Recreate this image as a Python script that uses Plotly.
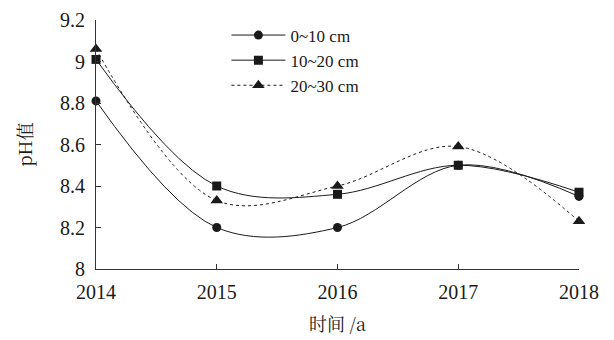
import plotly.graph_objects as go

# Soil pH by depth layer, 2014-2018
years = [2014, 2015, 2016, 2017, 2018]
ph_0_10 = [8.81, 8.20, 8.20, 8.50, 8.35]
ph_10_20 = [9.01, 8.40, 8.36, 8.50, 8.37]
ph_20_30 = [9.06, 8.33, 8.40, 8.59, 8.23]

series_names = ["0~10 cm", "10~20 cm", "20~30 cm"]
y_ticks = [8, 8.2, 8.4, 8.6, 8.8, 9, 9.2]

SERIF = "Liberation Serif, Times New Roman, serif"
CJK = "Noto Serif CJK SC, Noto Sans CJK SC, Liberation Serif, serif"

fig = go.Figure()
styles = [
    (ph_0_10, "circle", 9, "solid"),
    (ph_10_20, "square", 9, "solid"),
    (ph_20_30, "triangle-up", 11, "dot"),
]
for name, (vals, sym, size, dash) in zip(series_names, styles):
    fig.add_trace(go.Scatter(
        x=years, y=vals, name=name, mode="lines+markers",
        line=dict(color="#1a1a1a", width=1, shape="spline", smoothing=1, dash=dash),
        marker=dict(symbol=sym, size=size, color="#1a1a1a"),
        cliponaxis=False,
    ))

fig.update_layout(
    width=614, height=340,
    margin=dict(l=96, r=35, t=20, b=71),
    paper_bgcolor="white", plot_bgcolor="white",
    font=dict(family=SERIF, size=20, color="#1a1a1a"),
    showlegend=True,
    legend=dict(
        x=0.27, y=1.01, xanchor="left", yanchor="top",
        bgcolor="rgba(0,0,0,0)", font=dict(family=SERIF, size=17),
        itemwidth=54, tracegroupgap=0,
    ),
    xaxis=dict(
        range=[2014, 2018], tickvals=years, ticktext=[str(y) for y in years],
        showline=True, linecolor="#333", linewidth=1,
        ticks="inside", ticklen=5, tickcolor="#333",
        showgrid=False, zeroline=False, ticklabelstandoff=5, automargin=False,
        title=dict(text="时间 /a", font=dict(family=CJK, size=18), standoff=16),
    ),
    yaxis=dict(
        range=[8, 9.2], tickvals=y_ticks, ticktext=["8", "8.2", "8.4", "8.6", "8.8", "9", "9.2"],
        showline=True, linecolor="#333", linewidth=1,
        ticks="inside", ticklen=5, tickcolor="#333",
        showgrid=False, zeroline=False, ticklabelstandoff=6, automargin=False,
        title=dict(text="pH值", font=dict(family=CJK, size=18), standoff=22),
    ),
)

fig.write_html("out.html")
